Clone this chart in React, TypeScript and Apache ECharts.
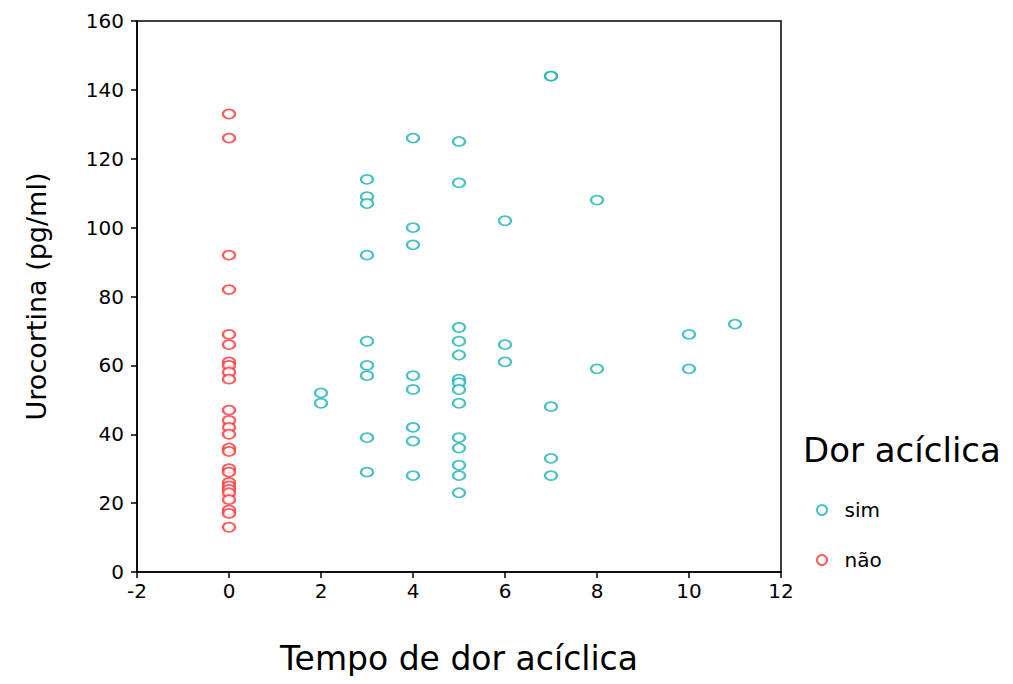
import React, { useEffect, useRef } from "react";
import * as echarts from "echarts";

// Grupo "sim": tempo de dor acíclica (anos) e urocortina (pg/ml)
const simTempo = [
  2, 2,
  3, 3, 3, 3, 3, 3, 3, 3, 3,
  4, 4, 4, 4, 4, 4, 4, 4,
  5, 5, 5, 5, 5, 5, 5, 5, 5, 5, 5, 5, 5, 5,
  6, 6, 6,
  7, 7, 7, 7, 7,
  8, 8,
  10, 10,
  11,
];
const simUrocortina = [
  52, 49,
  114, 109, 107, 92, 67, 60, 57, 39, 29,
  126, 100, 95, 57, 53, 42, 38, 28,
  125, 113, 71, 67, 63, 56, 55, 53, 49, 39, 36, 31, 28, 23,
  102, 66, 61,
  144, 144, 48, 33, 28,
  108, 59,
  69, 59,
  72,
];

// Grupo "não": sem dor acíclica (tempo = 0)
const naoUrocortina = [
  133, 126, 92, 82, 69, 66, 61, 60, 58, 56, 47, 44, 42, 40, 36, 35, 30, 29,
  26, 25, 24, 23, 21, 18, 17, 13,
];
const naoTempo = naoUrocortina.map(() => 0);

const xTicks = { min: -2, max: 12, interval: 2 };
const yTicks = { min: 0, max: 160, interval: 20 };

const FONT = "DejaVu Sans";
const COR_SIM = "#1db3b3";
const COR_NAO = "#ff3535";

export default function App() {
  const ref = useRef<HTMLDivElement>(null);

  useEffect(() => {
    if (!ref.current) return;
    const chart = echarts.init(ref.current, null, { renderer: "svg" });

    const pairs = (xs: number[], ys: number[]) => xs.map((x, i) => [x, ys[i]]);

    chart.setOption({
      animation: false,
      backgroundColor: "#fff",
      grid: {
        left: 137,
        right: 232,
        top: 21,
        bottom: 112,
        show: true,
        borderColor: "#000",
        borderWidth: 1.5,
        backgroundColor: "transparent",
      },
      xAxis: {
        type: "value",
        ...xTicks,
        name: "Tempo de dor acíclica",
        nameLocation: "middle",
        nameGap: 70,
        nameTextStyle: { fontFamily: FONT, fontSize: 33, color: "#000" },
        axisLine: { show: true, onZero: false, lineStyle: { color: "#000", width: 1.5 } },
        axisTick: { show: true, inside: false, length: 6, lineStyle: { color: "#000", width: 1.5 } },
        axisLabel: { fontFamily: FONT, fontSize: 20, color: "#000", margin: 9 },
        splitLine: { show: false },
      },
      yAxis: {
        type: "value",
        ...yTicks,
        name: "Urocortina (pg/ml)",
        nameLocation: "middle",
        nameGap: 87,
        nameTextStyle: { fontFamily: FONT, fontSize: 27, color: "#000" },
        axisLine: { show: true, onZero: false, lineStyle: { color: "#000", width: 1.5 } },
        axisTick: { show: true, inside: false, length: 6, lineStyle: { color: "#000", width: 1.5 } },
        axisLabel: { fontFamily: FONT, fontSize: 20, color: "#000", margin: 13 },
        splitLine: { show: false },
      },
      legend: {
        orient: "vertical",
        left: 811,
        top: 495,
        itemGap: 30,
        itemWidth: 13,
        itemHeight: 10,
        textStyle: { fontFamily: FONT, fontSize: 20, color: "#000", padding: [0, 0, 0, 11] },
        data: [
          { name: "sim", icon: "emptyCircle" },
          { name: "não", icon: "emptyCircle" },
        ],
      },
      graphic: [
        {
          type: "text",
          left: 803,
          top: 433,
          style: { text: "Dor acíclica", fontFamily: FONT, fontSize: 34, fill: "#000" },
        },
      ],
      series: [
        {
          name: "sim",
          type: "scatter",
          symbol: "emptyCircle",
          symbolSize: [12, 9],
          itemStyle: { color: COR_SIM, borderWidth: 2 },
          data: pairs(simTempo, simUrocortina),
        },
        {
          name: "não",
          type: "scatter",
          symbol: "emptyCircle",
          symbolSize: [12, 9],
          itemStyle: { color: COR_NAO, borderWidth: 2 },
          data: pairs(naoTempo, naoUrocortina),
        },
      ],
    });

    return () => chart.dispose();
  }, []);

  return <div ref={ref} style={{ width: 1013, height: 684, margin: -8 }} />;
}
